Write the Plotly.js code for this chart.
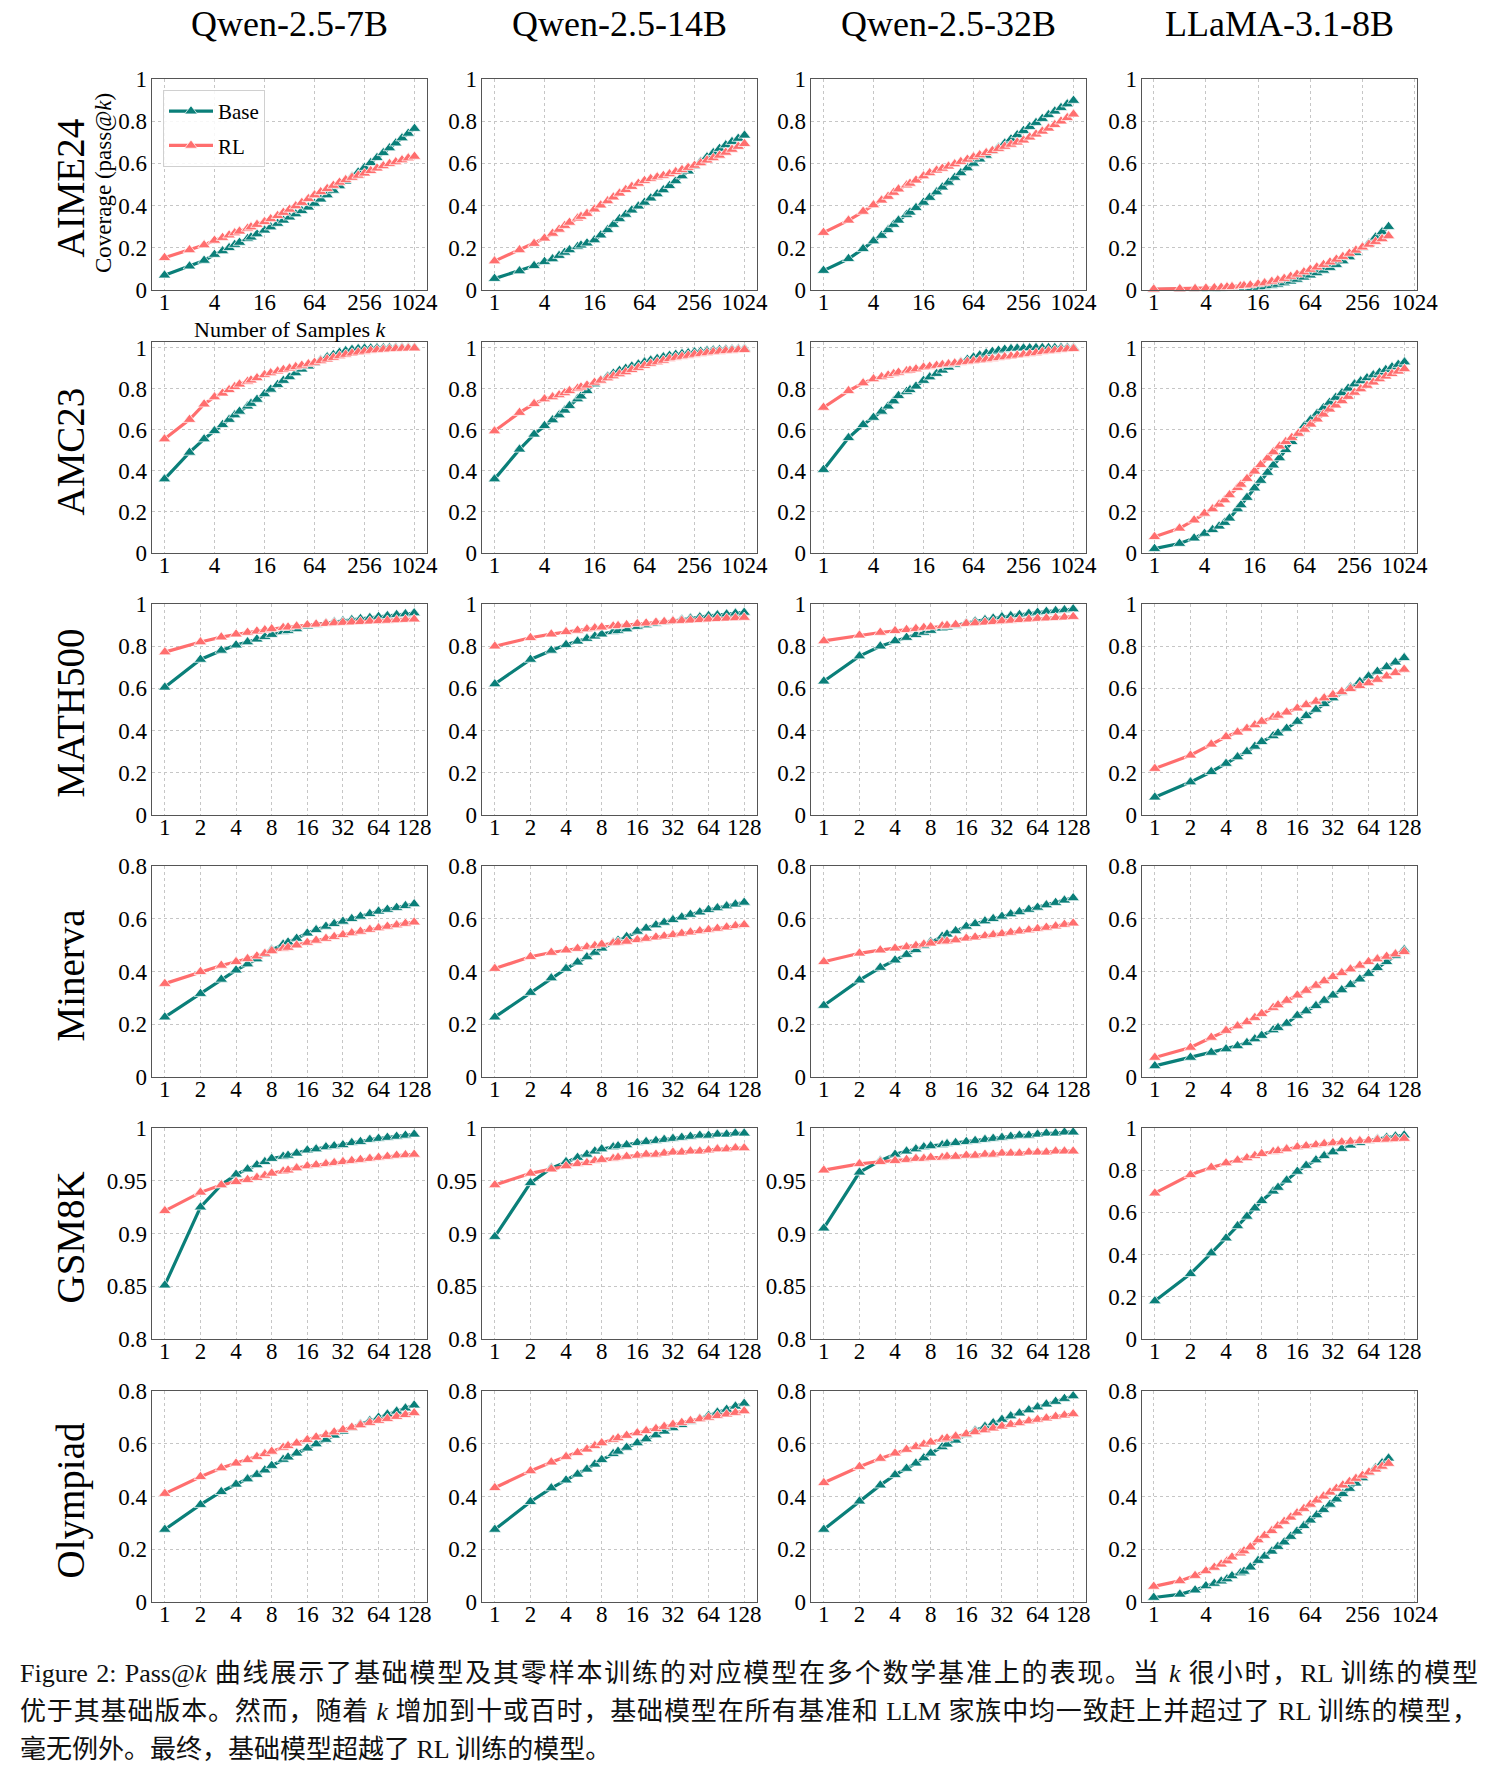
<!DOCTYPE html>
<html>
<head>
<meta charset="utf-8">
<script src="https://cdn.plot.ly/plotly-3.0.1.min.js"></script>
<style>
  html, body { margin:0; padding:0; background:#fff; }
  #wrap { position:relative; width:1492px; height:1784px; }
  #chart { position:absolute; left:0; top:0; width:1492px; height:1640px; }
  #cap { position:absolute; left:20px; top:1655px; width:1458px; font-family:"Liberation Serif","Noto Sans CJK SC",serif; font-size:26px; line-height:38px; color:#111; }
  #cap .j { text-align:justify; text-align-last:justify; white-space:nowrap; }
</style>
</head>
<body>
<div id="wrap">
  <div id="chart"></div>
  <div id="cap">
    <div class="j">Figure 2: Pass@<i>k</i> 曲线展示了基础模型及其零样本训练的对应模型在多个数学基准上的表现。当 <i>k</i> 很小时，RL 训练的模型</div>
    <div class="j">优于其基础版本。然而，随着 <i>k</i> 增加到十或百时，基础模型在所有基准和 LLM 家族中均一致赶上并超过了 RL 训练的模型，</div>
    <div>毫无例外。最终，基础模型超越了 RL 训练的模型。</div>
  </div>
</div>
<script>
// ---------------- data ----------------
const models = ["Qwen-2.5-7B", "Qwen-2.5-14B", "Qwen-2.5-32B", "LLaMA-3.1-8B"];
const benchmarks = ["AIME24", "AMC23", "MATH500", "Minerva", "GSM8K", "Olympiad"];

const K1024 = [1,2,3,4,5,6,7,8,10,11,13,16,19,23,27,32,38,45,54,64,76,91,108,128,152,181,215,256,304,362,431,512,609,724,861,1024];
const K512  = [1,2,3,4,5,6,7,8,10,11,13,16,19,23,27,32,38,45,54,64,76,91,108,128,152,181,215,256,304,362,431,512];
const K128  = [1,2,3,4,5,6,7,8,10,11,13,16,19,23,27,32,38,45,54,64,76,91,108,128];

const X1024_TICKS = [1,4,16,64,256,1024];
const X1024_TEXT  = ["1","4","16","64","256","1024"];
const X128_TICKS  = [1,2,4,8,16,32,64,128];
const X128_TEXT   = ["1","2","4","8","16","32","64","128"];
const Y10_TICKS = [0,0.2,0.4,0.6,0.8,1];
const Y10_TEXT  = ["0","0.2","0.4","0.6","0.8","1"];
const Y08_TICKS = [0,0.2,0.4,0.6,0.8];
const Y08_TEXT  = ["0","0.2","0.4","0.6","0.8"];
const YGSM_TICKS = [0.8,0.85,0.9,0.95,1];
const YGSM_TEXT  = ["0.8","0.85","0.9","0.95","1"];

// AIME24
const aime_q7_base = [0.07,0.113,0.14,0.168,0.185,0.2,0.215,0.225,0.243,0.25,0.265,0.283,0.298,0.315,0.33,0.345,0.36,0.375,0.392,0.41,0.43,0.45,0.472,0.493,0.515,0.537,0.558,0.58,0.603,0.627,0.65,0.673,0.696,0.72,0.742,0.765];
const aime_q7_rl   = [0.153,0.19,0.213,0.235,0.248,0.26,0.27,0.278,0.292,0.298,0.31,0.323,0.337,0.352,0.367,0.382,0.398,0.414,0.432,0.45,0.465,0.48,0.495,0.51,0.522,0.533,0.543,0.553,0.565,0.577,0.588,0.598,0.607,0.616,0.625,0.633];
const aime_q14_base = [0.054,0.09,0.115,0.134,0.147,0.163,0.178,0.19,0.205,0.212,0.222,0.237,0.26,0.285,0.31,0.337,0.358,0.378,0.397,0.415,0.435,0.455,0.474,0.494,0.517,0.54,0.563,0.587,0.608,0.63,0.65,0.67,0.687,0.703,0.718,0.733];
const aime_q14_rl   = [0.137,0.19,0.22,0.245,0.268,0.287,0.305,0.32,0.34,0.348,0.362,0.383,0.402,0.422,0.44,0.458,0.475,0.49,0.505,0.518,0.527,0.535,0.542,0.55,0.56,0.57,0.58,0.59,0.602,0.615,0.626,0.638,0.652,0.666,0.68,0.693];
const aime_q32_base = [0.092,0.148,0.195,0.232,0.258,0.285,0.31,0.33,0.357,0.368,0.39,0.415,0.438,0.464,0.487,0.51,0.533,0.555,0.578,0.6,0.62,0.638,0.657,0.675,0.695,0.715,0.735,0.755,0.774,0.793,0.812,0.83,0.847,0.864,0.881,0.898];
const aime_q32_rl   = [0.272,0.33,0.372,0.403,0.425,0.443,0.462,0.478,0.497,0.505,0.52,0.54,0.555,0.567,0.576,0.586,0.597,0.608,0.619,0.63,0.64,0.65,0.66,0.67,0.68,0.69,0.7,0.71,0.724,0.738,0.752,0.766,0.783,0.8,0.816,0.833];
const aime_l8_base = [0.002,0.003,0.004,0.005,0.006,0.007,0.008,0.008,0.009,0.01,0.011,0.012,0.015,0.02,0.026,0.033,0.041,0.05,0.06,0.07,0.081,0.093,0.106,0.12,0.137,0.156,0.177,0.2,0.222,0.25,0.275,0.3];
const aime_l8_rl   = [0.004,0.005,0.006,0.008,0.01,0.012,0.014,0.015,0.018,0.02,0.023,0.028,0.033,0.04,0.047,0.054,0.064,0.074,0.085,0.097,0.108,0.12,0.132,0.145,0.158,0.173,0.188,0.203,0.216,0.229,0.242,0.256];

// AMC23
const amc_q7_base = [0.36,0.49,0.555,0.595,0.625,0.65,0.672,0.69,0.715,0.728,0.748,0.775,0.797,0.82,0.84,0.858,0.877,0.895,0.91,0.925,0.94,0.955,0.966,0.977,0.985,0.991,0.995,0.997,0.998,0.999,0.999,1,1,1,1,1];
const amc_q7_rl   = [0.555,0.65,0.725,0.76,0.778,0.795,0.81,0.822,0.836,0.842,0.853,0.868,0.877,0.886,0.893,0.9,0.907,0.914,0.921,0.928,0.936,0.944,0.952,0.96,0.967,0.973,0.978,0.982,0.986,0.989,0.991,0.993,0.995,0.996,0.997,0.998];
const amc_q14_base = [0.36,0.505,0.578,0.62,0.648,0.672,0.695,0.717,0.75,0.764,0.79,0.823,0.842,0.86,0.875,0.889,0.899,0.91,0.92,0.93,0.939,0.947,0.955,0.962,0.967,0.971,0.975,0.979,0.982,0.985,0.988,0.99,0.992,0.993,0.994,0.995];
const amc_q14_rl   = [0.594,0.684,0.727,0.75,0.76,0.77,0.78,0.79,0.802,0.808,0.817,0.831,0.841,0.852,0.862,0.872,0.882,0.893,0.903,0.913,0.922,0.93,0.938,0.946,0.952,0.957,0.962,0.967,0.971,0.975,0.979,0.982,0.985,0.987,0.989,0.99];
const amc_q32_base = [0.406,0.561,0.625,0.66,0.69,0.715,0.74,0.766,0.786,0.795,0.812,0.84,0.857,0.874,0.89,0.905,0.918,0.931,0.943,0.954,0.964,0.973,0.981,0.987,0.992,0.995,0.997,0.998,0.999,1,1,1,1,1,1,1];
const amc_q32_rl   = [0.709,0.79,0.828,0.848,0.858,0.866,0.873,0.88,0.887,0.89,0.896,0.905,0.909,0.913,0.917,0.921,0.925,0.928,0.932,0.935,0.939,0.943,0.947,0.951,0.955,0.959,0.963,0.967,0.971,0.975,0.98,0.984,0.987,0.99,0.993,0.995];
const amc_l8_base = [0.021,0.046,0.072,0.095,0.113,0.13,0.148,0.169,0.214,0.234,0.27,0.316,0.353,0.392,0.428,0.463,0.503,0.542,0.582,0.62,0.65,0.68,0.707,0.733,0.757,0.78,0.802,0.823,0.838,0.853,0.867,0.88,0.893,0.906,0.918,0.93];
const amc_l8_rl   = [0.079,0.12,0.16,0.193,0.214,0.237,0.258,0.283,0.318,0.334,0.362,0.398,0.43,0.462,0.492,0.52,0.542,0.562,0.582,0.602,0.627,0.652,0.676,0.7,0.72,0.741,0.762,0.782,0.799,0.816,0.832,0.848,0.861,0.873,0.885,0.897];

// MATH500
const math_q7_base = [0.605,0.737,0.78,0.805,0.82,0.833,0.845,0.855,0.868,0.873,0.882,0.895,0.902,0.909,0.915,0.92,0.925,0.93,0.935,0.94,0.944,0.949,0.953,0.957];
const math_q7_rl   = [0.772,0.82,0.843,0.857,0.865,0.871,0.877,0.882,0.888,0.89,0.895,0.901,0.904,0.907,0.91,0.912,0.914,0.916,0.918,0.92,0.922,0.924,0.926,0.928];
const math_q14_base = [0.621,0.737,0.78,0.807,0.823,0.836,0.847,0.857,0.868,0.873,0.881,0.893,0.9,0.907,0.913,0.92,0.926,0.932,0.938,0.944,0.948,0.952,0.956,0.96];
const math_q14_rl   = [0.8,0.84,0.857,0.868,0.875,0.881,0.886,0.89,0.895,0.897,0.901,0.906,0.909,0.913,0.916,0.919,0.921,0.923,0.925,0.928,0.93,0.932,0.934,0.936];
const math_q32_base = [0.634,0.753,0.8,0.825,0.841,0.854,0.865,0.874,0.885,0.89,0.898,0.91,0.918,0.925,0.932,0.939,0.944,0.949,0.955,0.96,0.964,0.968,0.972,0.976];
const math_q32_rl   = [0.825,0.852,0.865,0.873,0.878,0.883,0.888,0.891,0.896,0.898,0.902,0.907,0.91,0.913,0.916,0.919,0.922,0.925,0.928,0.931,0.933,0.935,0.937,0.94];
const math_l8_base = [0.084,0.156,0.205,0.244,0.275,0.3,0.325,0.347,0.375,0.388,0.41,0.443,0.47,0.5,0.527,0.554,0.58,0.605,0.632,0.658,0.68,0.702,0.724,0.745];
const math_l8_rl   = [0.22,0.283,0.335,0.371,0.392,0.41,0.427,0.443,0.463,0.472,0.487,0.506,0.522,0.538,0.554,0.57,0.584,0.598,0.612,0.626,0.642,0.658,0.674,0.69];

// Minerva
const min_q7_base = [0.227,0.316,0.37,0.405,0.428,0.447,0.465,0.482,0.503,0.511,0.525,0.545,0.558,0.571,0.581,0.59,0.6,0.609,0.619,0.628,0.635,0.642,0.649,0.656];
const min_q7_rl   = [0.354,0.399,0.423,0.437,0.448,0.458,0.468,0.478,0.487,0.491,0.5,0.51,0.518,0.525,0.532,0.539,0.546,0.552,0.559,0.565,0.571,0.576,0.582,0.587];
const min_q14_base = [0.227,0.32,0.375,0.411,0.435,0.455,0.472,0.488,0.51,0.518,0.532,0.552,0.564,0.576,0.586,0.596,0.606,0.616,0.625,0.634,0.641,0.648,0.655,0.662];
const min_q14_rl   = [0.411,0.456,0.472,0.481,0.487,0.493,0.498,0.503,0.508,0.51,0.514,0.52,0.525,0.53,0.534,0.539,0.544,0.549,0.554,0.558,0.563,0.568,0.573,0.577];
const min_q32_base = [0.271,0.367,0.415,0.443,0.464,0.482,0.498,0.513,0.533,0.541,0.554,0.571,0.581,0.591,0.6,0.609,0.618,0.626,0.635,0.643,0.652,0.661,0.67,0.679];
const min_q32_rl   = [0.437,0.469,0.481,0.488,0.493,0.498,0.503,0.507,0.513,0.515,0.519,0.526,0.53,0.535,0.539,0.543,0.548,0.553,0.557,0.562,0.567,0.572,0.578,0.583];
const min_l8_base = [0.042,0.074,0.093,0.106,0.118,0.13,0.144,0.157,0.178,0.187,0.203,0.233,0.25,0.27,0.29,0.31,0.33,0.35,0.371,0.392,0.414,0.437,0.46,0.482];
const min_l8_rl   = [0.074,0.112,0.15,0.176,0.193,0.209,0.225,0.24,0.263,0.273,0.29,0.31,0.328,0.347,0.364,0.38,0.395,0.409,0.423,0.437,0.447,0.457,0.466,0.475];

// GSM8K
const gsm_q7_base = [0.851,0.925,0.946,0.956,0.961,0.965,0.968,0.971,0.973,0.974,0.976,0.979,0.98,0.982,0.983,0.984,0.986,0.987,0.989,0.99,0.991,0.992,0.993,0.994];
const gsm_q7_rl   = [0.9215,0.939,0.946,0.949,0.951,0.953,0.955,0.957,0.959,0.96,0.962,0.964,0.965,0.966,0.967,0.968,0.969,0.97,0.971,0.972,0.973,0.974,0.9745,0.975];
const gsm_q14_base = [0.897,0.948,0.962,0.968,0.972,0.975,0.978,0.98,0.982,0.983,0.984,0.986,0.987,0.988,0.989,0.99,0.991,0.992,0.993,0.993,0.994,0.994,0.995,0.995];
const gsm_q14_rl   = [0.946,0.957,0.961,0.964,0.966,0.967,0.969,0.97,0.971,0.972,0.973,0.974,0.975,0.975,0.976,0.977,0.977,0.978,0.978,0.979,0.98,0.98,0.981,0.981];
const gsm_q32_base = [0.905,0.958,0.969,0.975,0.978,0.98,0.982,0.983,0.984,0.985,0.986,0.987,0.988,0.989,0.99,0.991,0.992,0.993,0.993,0.994,0.995,0.995,0.996,0.996];
const gsm_q32_rl   = [0.96,0.966,0.968,0.969,0.97,0.971,0.971,0.972,0.972,0.973,0.973,0.974,0.974,0.975,0.975,0.976,0.976,0.976,0.977,0.977,0.977,0.978,0.978,0.978];
const gsm_l8_base = [0.18,0.309,0.407,0.478,0.536,0.581,0.62,0.655,0.7,0.718,0.752,0.794,0.822,0.848,0.868,0.886,0.902,0.918,0.93,0.94,0.948,0.955,0.961,0.966];
const gsm_l8_rl   = [0.691,0.778,0.813,0.834,0.847,0.858,0.869,0.878,0.888,0.892,0.9,0.91,0.915,0.92,0.925,0.929,0.933,0.936,0.939,0.941,0.944,0.946,0.948,0.95];

// Olympiad
const oly_q7_base = [0.275,0.369,0.418,0.446,0.466,0.483,0.5,0.517,0.54,0.549,0.564,0.583,0.599,0.616,0.632,0.647,0.661,0.674,0.687,0.7,0.712,0.723,0.735,0.746];
const oly_q7_rl   = [0.411,0.475,0.508,0.526,0.539,0.551,0.562,0.571,0.586,0.592,0.602,0.615,0.625,0.634,0.644,0.653,0.662,0.671,0.68,0.688,0.695,0.703,0.71,0.717];
const oly_q14_base = [0.275,0.38,0.432,0.462,0.484,0.503,0.522,0.539,0.562,0.571,0.586,0.603,0.618,0.633,0.647,0.66,0.672,0.684,0.695,0.707,0.719,0.73,0.742,0.753];
const oly_q14_rl   = [0.433,0.497,0.53,0.551,0.566,0.579,0.592,0.603,0.616,0.622,0.631,0.641,0.649,0.657,0.665,0.673,0.68,0.687,0.694,0.7,0.706,0.712,0.718,0.724];
const oly_q32_base = [0.275,0.382,0.443,0.482,0.506,0.526,0.546,0.564,0.588,0.598,0.613,0.634,0.65,0.665,0.679,0.692,0.705,0.716,0.728,0.739,0.75,0.76,0.771,0.781];
const oly_q32_rl   = [0.452,0.513,0.544,0.564,0.578,0.589,0.598,0.606,0.617,0.621,0.628,0.637,0.645,0.652,0.659,0.666,0.673,0.679,0.686,0.692,0.697,0.703,0.708,0.713];
const oly_l8_base = [0.017,0.029,0.045,0.061,0.07,0.079,0.087,0.099,0.11,0.116,0.132,0.157,0.173,0.192,0.21,0.227,0.248,0.268,0.289,0.31,0.33,0.35,0.37,0.39,0.41,0.43,0.45,0.47,0.49,0.508,0.527,0.545];
const oly_l8_rl   = [0.059,0.08,0.1,0.118,0.131,0.143,0.155,0.17,0.185,0.193,0.208,0.235,0.252,0.27,0.288,0.305,0.321,0.337,0.354,0.37,0.386,0.401,0.416,0.43,0.443,0.456,0.468,0.48,0.492,0.503,0.514,0.525];

// ---------------- layout ----------------
const W = 1492, H = 1640;
const colLeft = [152, 482, 811, 1142], colW = 275;
const rowTop = [79, 342, 604, 866, 1128, 1391], rowH = 211;
const TEAL = "#0a7f79", SALMON = "#ff6e6e";
const FONT = "Liberation Serif, Times New Roman, serif";

const L2 = Math.log10(2);
const XR1024 = [-0.5 * L2, 10.5 * L2];
const XR512 = [-0.45 * L2, 10.09 * L2];
const XR128 = [-0.36 * L2, 7.36 * L2];

const X1024 = {k: K1024, range: XR1024, tv: X1024_TICKS, tt: X1024_TEXT};
const X512  = {k: K512,  range: XR512,  tv: X1024_TICKS, tt: X1024_TEXT};
const X128  = {k: K128,  range: XR128,  tv: X128_TICKS,  tt: X128_TEXT};
const Y01  = {range: [0, 1],    tv: Y10_TICKS, tt: Y10_TEXT};
const Y0103 = {range: [0, 1.028], tv: Y10_TICKS, tt: Y10_TEXT};
const Y08  = {range: [0, 0.8],  tv: Y08_TICKS, tt: Y08_TEXT};
const YGSM = {range: [0.8, 1],  tv: YGSM_TICKS, tt: YGSM_TEXT};

const panels = [
  [X1024, Y01, aime_q7_base, aime_q7_rl], [X1024, Y01, aime_q14_base, aime_q14_rl], [X1024, Y01, aime_q32_base, aime_q32_rl], [X512, Y01, aime_l8_base, aime_l8_rl],
  [X1024, Y0103, amc_q7_base, amc_q7_rl], [X1024, Y0103, amc_q14_base, amc_q14_rl], [X1024, Y0103, amc_q32_base, amc_q32_rl], [X1024, Y0103, amc_l8_base, amc_l8_rl],
  [X128, Y01, math_q7_base, math_q7_rl], [X128, Y01, math_q14_base, math_q14_rl], [X128, Y01, math_q32_base, math_q32_rl], [X128, Y01, math_l8_base, math_l8_rl],
  [X128, Y08, min_q7_base, min_q7_rl], [X128, Y08, min_q14_base, min_q14_rl], [X128, Y08, min_q32_base, min_q32_rl], [X128, Y08, min_l8_base, min_l8_rl],
  [X128, YGSM, gsm_q7_base, gsm_q7_rl], [X128, YGSM, gsm_q14_base, gsm_q14_rl], [X128, YGSM, gsm_q32_base, gsm_q32_rl], [X128, Y01, gsm_l8_base, gsm_l8_rl],
  [X128, Y08, oly_q7_base, oly_q7_rl], [X128, Y08, oly_q14_base, oly_q14_rl], [X128, Y08, oly_q32_base, oly_q32_rl], [X512, Y08, oly_l8_base, oly_l8_rl]
];

const traces = [];
const layout = {
  width: W, height: H,
  margin: {l: 0, r: 0, t: 0, b: 0},
  paper_bgcolor: "#fff", plot_bgcolor: "#fff",
  font: {family: FONT, color: "#000", size: 23},
  showlegend: true,
  legend: {
    x: 163 / W, y: 1 - 90 / H, xanchor: "left", yanchor: "top",
    bgcolor: "rgba(255,255,255,0.85)", bordercolor: "#d0d0d0", borderwidth: 1,
    font: {family: FONT, size: 21, color: "#000"}, tracegroupgap: 4, itemwidth: 44
  },
  annotations: []
};

panels.forEach((p, i) => {
  const [X, Y, base, rl] = p;
  const r = Math.floor(i / 4), c = i % 4, n = i + 1;
  const sx = n === 1 ? "" : String(n);
  const common = {
    showgrid: true, gridcolor: "#c6c6c6", griddash: "dot", gridwidth: 1,
    showline: true, linecolor: "#555", linewidth: 1.4, mirror: true,
    zeroline: false, ticks: "", fixedrange: true,
    tickfont: {family: FONT, size: 23, color: "#000"}
  };
  layout["xaxis" + sx] = Object.assign({}, common, {
    domain: [colLeft[c] / W, (colLeft[c] + colW) / W], anchor: "y" + sx,
    type: "log", range: X.range, tickvals: X.tv, ticktext: X.tt, tickmode: "array",
    ticklabelstandoff: -9
  });
  layout["yaxis" + sx] = Object.assign({}, common, {
    domain: [1 - (rowTop[r] + rowH) / H, 1 - rowTop[r] / H], anchor: "x" + sx,
    range: Y.range, tickvals: Y.tv, ticktext: Y.tt, tickmode: "array",
    ticklabelstandoff: -1
  });
  [["Base", base, TEAL], ["RL", rl, SALMON]].forEach(([name, vals, col]) => {
    traces.push({
      type: "scatter", mode: "lines+markers", name: name, legendgroup: name,
      showlegend: i === 0, x: X.k, y: vals, xaxis: "x" + sx, yaxis: "y" + sx,
      cliponaxis: false,
      line: {color: col, width: 3.2},
      marker: {symbol: "triangle-up", size: 11, color: col, line: {color: "rgba(255,255,255,0.9)", width: 0.8}}
    });
  });
});

// column titles
models.forEach((m, c) => {
  layout.annotations.push({
    text: m, xref: "paper", yref: "paper", x: (colLeft[c] + colW / 2) / W, y: 1 - 24 / H,
    xanchor: "center", yanchor: "middle", showarrow: false,
    font: {family: FONT, size: 36, color: "#000"}
  });
});
// row labels
benchmarks.forEach((b, r) => {
  layout.annotations.push({
    text: b, xref: "paper", yref: "paper", x: 70 / W, y: 1 - (rowTop[r] + rowH / 2 + 4) / H,
    xanchor: "center", yanchor: "middle", showarrow: false, textangle: -90,
    font: {family: FONT, size: 39, color: "#000"}
  });
});
// axis titles of the first panel
layout.annotations.push({
  text: "Coverage (pass@<i>k</i>)", xref: "paper", yref: "paper", x: 104 / W, y: 1 - 183 / H,
  xanchor: "center", yanchor: "middle", showarrow: false, textangle: -90,
  font: {family: FONT, size: 23, color: "#000"}
});
layout.annotations.push({
  text: "Number of Samples <i>k</i>", xref: "paper", yref: "paper", x: 290 / W, y: 1 - 330 / H,
  xanchor: "center", yanchor: "middle", showarrow: false,
  font: {family: FONT, size: 22, color: "#000"}
});

Plotly.newPlot("chart", traces, layout, {displayModeBar: false, staticPlot: true});
</script>
</body>
</html>
